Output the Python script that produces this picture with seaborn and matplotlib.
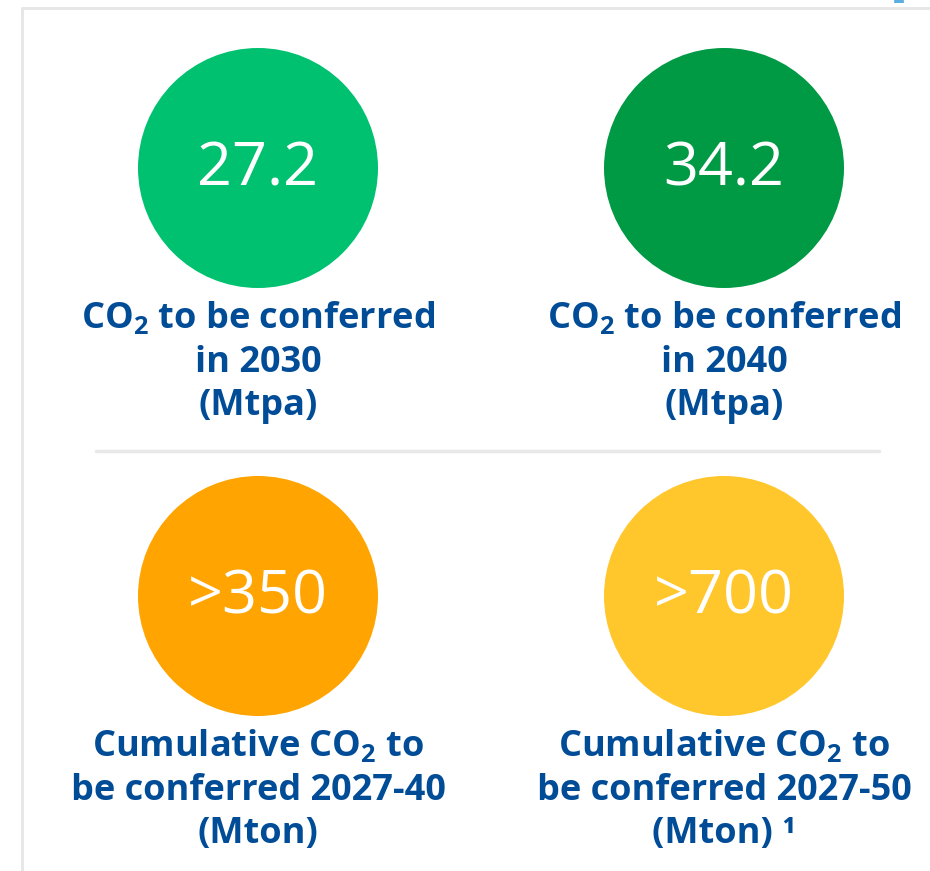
import matplotlib
matplotlib.use("Agg")
import matplotlib.pyplot as plt
import seaborn as sns
import pandas as pd

# values shown in the circles
values = ["27.2", "34.2", ">350", ">700"]
labels = [
    "CO$_\\mathbf{2}$ to be conferred\nin 2030\n(Mtpa)",
    "CO$_\\mathbf{2}$ to be conferred\nin 2040\n(Mtpa)",
    "Cumulative CO$_\\mathbf{2}$ to\nbe conferred 2027-40\n(Mton)",
    "Cumulative CO$_\\mathbf{2}$ to\nbe conferred 2027-50\n(Mton) \u00b9",
]
colors = ["#00C170", "#009A44", "#FFA400", "#FFC72C"]
col = [0, 1, 0, 1]
row = [0, 0, 1, 1]

sns.set_style("white")
plt.rcParams["font.family"] = ["Open Sans", "DejaVu Sans"]
plt.rcParams["mathtext.fontset"] = "custom"
plt.rcParams["mathtext.rm"] = "Open Sans:bold"
plt.rcParams["mathtext.bf"] = "Open Sans:bold"

df = pd.DataFrame({"value": values, "label": labels, "color": colors,
                   "col": col, "row": row})
df["x"] = 258 + df["col"] * 466
df["y"] = 168 + df["row"] * 428

fig = plt.figure(figsize=(9.3, 8.71), dpi=100)
ax = fig.add_axes([0, 0, 1, 1])
ax.set_xlim(0, 930)
ax.set_ylim(871, 0)
ax.axis("off")

# circle diameter 240 px -> points
diam_pt = 240 * 72 / 100
sns.scatterplot(data=df, x="x", y="y", hue="value", palette=dict(zip(values, colors)),
                s=diam_pt ** 2, linewidth=0, legend=False, ax=ax)

for _, r in df.iterrows():
    ax.text(r["x"], r["y"] + 1, r["value"], color="white", fontsize=44,
            fontweight="normal", ha="center", va="center")
    ax.text(r["x"], r["y"] + 132, r["label"], color="#004C97", fontsize=26,
            fontweight="bold", ha="center", va="top", linespacing=1.28)

# frame lines and separator
ax.plot([22, 930], [8.5, 8.5], color="#E6E6E6", lw=2)
ax.plot([22, 22], [8.5, 871], color="#E6E6E6", lw=2)
ax.plot([96, 879], [451, 451], color="#E8E8E8", lw=2.5)
ax.plot([899, 899], [0, 3], color="#5BAEE0", lw=7, solid_capstyle="butt")

fig.savefig("out.png", dpi=100)
